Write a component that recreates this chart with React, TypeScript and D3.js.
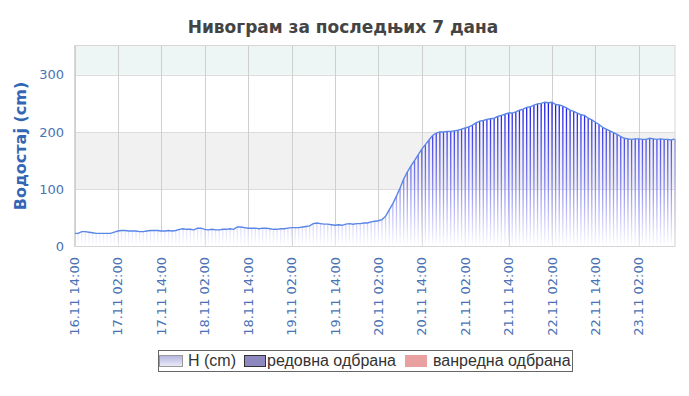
import React from "react";
import * as d3 from "d3";

const title = "Нивограм за последњих 7 дана";
const yTitle = "Водостај (cm)";
const startTime = Date.UTC(2023, 10, 16, 14, 0);
const endTime = Date.UTC(2023, 10, 23, 12, 0);
const yTicks = [0, 100, 200, 300];
const xTickLabels = [
  "16.11 14:00", "17.11 02:00", "17.11 14:00", "18.11 02:00", "18.11 14:00",
  "19.11 02:00", "19.11 14:00", "20.11 02:00", "20.11 14:00", "21.11 02:00",
  "21.11 14:00", "22.11 02:00", "22.11 14:00", "23.11 02:00",
];
const bands = [
  { from: 0, to: 100, color: "#ffffff" },
  { from: 100, to: 200, color: "#f1f1f1" },
  { from: 200, to: 300, color: "#ffffff" },
  { from: 300, to: 350, color: "#eef6f5" },
];
// hourly water level (cm) from 16.11 14:00
const levels = [
  23, 23, 26, 26, 25, 24, 23, 23, 23, 23, 23, 25, 27, 28, 28, 27, 27, 27, 26, 26,
  27, 28, 28, 28, 27, 27, 28, 27, 28, 30, 31, 30, 30, 29, 32, 32, 30, 29, 30, 29,
  29, 30, 30, 31, 30, 34, 34, 33, 32, 32, 32, 31, 32, 32, 31, 30, 30, 31, 31, 32,
  33, 33, 33, 34, 35, 36, 40, 41, 40, 39, 39, 38, 37, 38, 37, 39, 40, 39, 40, 40,
  41, 41, 43, 44, 45, 47, 53, 64, 75, 88, 102, 118, 130, 141, 150, 160, 170, 178, 186, 194,
  198, 200, 200, 201, 201, 202, 203, 205, 207, 209, 212, 216, 219, 220, 222, 223, 224, 227, 229, 231,
  233, 233, 235, 238, 240, 243, 244, 247, 249, 250, 252, 251, 252, 248, 247, 245, 242, 238, 236, 233,
  230, 229, 224, 221, 217, 213, 208, 205, 202, 199, 196, 192, 189, 188, 187, 188, 188, 187, 187, 189,
  188, 187, 188, 187, 187, 186, 188,
];
const legendItems = ["H (cm)", "редовна одбрана", "ванредна одбрана"];

const W = 689, H = 396;
const M = { left: 74.5, right: 675, top: 45.5, bottom: 246.5 };
const HOUR = 3600 * 1000;

export default function App() {
  const x = d3.scaleUtc().domain([startTime, endTime]).range([M.left, M.right]);
  const y = d3.scaleLinear().domain([0, 351]).range([M.bottom, M.top]);
  const data = levels.map((v, i) => ({ t: startTime + i * HOUR, v }));
  const xTicks = xTickLabels.map((label, i) => ({ label, t: startTime + i * 12 * HOUR }));
  const line = d3.line<{ t: number; v: number }>().x(d => x(d.t)).y(d => y(d.v));
  const blue = "#4a72b5";
  const font = "DejaVu Sans, Verdana, sans-serif";

  return (
    <svg width={W} height={H} style={{ position: "absolute", left: 0, top: 0, background: "#fff" }}>
      <defs>
        <linearGradient id="barGrad" gradientUnits="userSpaceOnUse" x1={0} x2={0} y1={y(260)} y2={y(0)}>
          <stop offset="0" stopColor="#1010e6" />
          <stop offset="0.55" stopColor="#7f7ff0" />
          <stop offset="1" stopColor="#ffffff" />
        </linearGradient>
        <linearGradient id="legGrad" x1={0} x2={0} y1={0} y2={1}>
          <stop offset="0" stopColor="#b4b4df" />
          <stop offset="1" stopColor="#ececf8" />
        </linearGradient>
      </defs>
      <text x={343} y={33} textAnchor="middle" fontFamily={font} fontWeight="bold" fontSize={17} fill="#444">{title}</text>
      {bands.map((b, i) => (
        <rect key={i} x={M.left} width={M.right - M.left} y={y(Math.min(b.to, 351))} height={y(b.from) - y(Math.min(b.to, 351))} fill={b.color} />
      ))}
      {yTicks.slice(1).map(t => (
        <line key={t} x1={M.left} x2={M.right} y1={Math.round(y(t)) + 0.5} y2={Math.round(y(t)) + 0.5} stroke="#dcdcdc" />
      ))}
      {xTicks.map((d, i) => (
        <line key={i} x1={Math.round(x(d.t)) + 0.5} x2={Math.round(x(d.t)) + 0.5} y1={M.top} y2={M.bottom} stroke="#cfcfcf" />
      ))}
      {data.map((d, i) => (
        <rect key={i} x={x(d.t) - 0.65} width={1.3} y={y(d.v)} height={y(0) - y(d.v)} fill="url(#barGrad)" />
      ))}
      <path d={line(data) || ""} fill="none" stroke="#5a86e6" strokeWidth={1.4} />
      <rect x={M.left} y={M.top} width={M.right - M.left} height={M.bottom - M.top} fill="none" stroke="#d6d6d6" />
      {yTicks.map(t => (
        <text key={t} x={64} y={y(t)} dy="0.35em" textAnchor="end" fontFamily={font} fontSize={13} fill={blue}>{t}</text>
      ))}
      <text transform={`translate(20,${(M.top + M.bottom) / 2}) rotate(-90)`} textAnchor="middle" dy="0.35em" fontFamily={font} fontWeight="bold" fontSize={16} fill="#3366b3">{yTitle}</text>
      {xTicks.map((d, i) => (
        <text key={i} transform={`translate(${x(d.t)},257) rotate(-90)`} textAnchor="end" dy="0.35em" fontFamily={font} fontSize={13} fill={blue}>{d.label}</text>
      ))}
      <g fontFamily="Liberation Sans, Arial, sans-serif" fontSize={16} fill="#333">
        <rect x={158.5} y={350.5} width={414} height={21} fill="#fff" stroke="#666" />
        <rect x={159.5} y={355.5} width={23} height={11} fill="url(#legGrad)" stroke="#999" />
        <text x={188} y={366}>{legendItems[0]}</text>
        <rect x={244.5} y={355.5} width={21} height={11} fill="#8e88c0" stroke="#333" />
        <text x={267} y={366}>{legendItems[1]}</text>
        <rect x={405} y={355} width={22} height={12} fill="#e9a0a0" />
        <text x={433} y={366}>{legendItems[2]}</text>
      </g>
    </svg>
  );
}
